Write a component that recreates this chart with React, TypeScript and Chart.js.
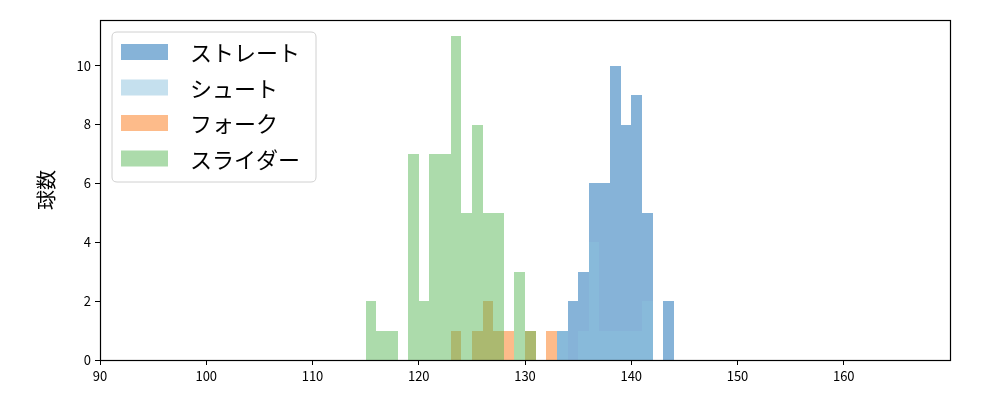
import React, { useEffect, useRef } from "react";
import { Chart, registerables } from "chart.js";

Chart.register(...registerables);

// Histogram bins (left edge, km/h) and counts per pitch type
const binWidth = 1;
const straightBins = [133, 134, 135, 136, 137, 138, 139, 140, 141, 142, 143];
const straightCounts = [1, 2, 3, 6, 6, 10, 8, 9, 5, 0, 2];
const shootBins = [133, 134, 135, 136, 137, 138, 139, 140, 141];
const shootCounts = [1, 0, 1, 4, 1, 1, 1, 1, 2];
const forkBins = [123, 124, 125, 126, 127, 128, 129, 130, 131, 132];
const forkCounts = [1, 0, 1, 2, 1, 1, 0, 1, 0, 1];
const sliderBins = [115, 116, 117, 118, 119, 120, 121, 122, 123, 124, 125, 126, 127, 128, 129, 130];
const sliderCounts = [2, 1, 1, 0, 7, 2, 7, 7, 11, 5, 8, 5, 5, 0, 3, 1];

const seriesNames = ["ストレート", "シュート", "フォーク", "スライダー"];
const seriesColors = [
  "rgba(13, 103, 177, 0.5)",
  "rgba(139, 193, 221, 0.5)",
  "rgba(251, 119, 21, 0.5)",
  "rgba(89, 183, 87, 0.5)",
];

const xTicks = [90, 100, 110, 120, 130, 140, 150, 160];
const yTicks = [0, 2, 4, 6, 8, 10];
const xMin = 90;
const xMax = 170;
const yMax = 11.55;
const yTitle = "球数";

const FONT = "'Noto Sans CJK JP', 'DejaVu Sans', sans-serif";

function toPoints(bins: number[], counts: number[]) {
  return bins.map((b, i) => ({ x: b + binWidth / 2, y: counts[i] }));
}

// Snap bar edges to whole pixels so adjacent translucent bars do not show seams
const snapPlugin = {
  id: "snapBars",
  afterDatasetsUpdate(chart: any) {
    chart.data.datasets.forEach((_: any, di: number) => {
      const meta = chart.getDatasetMeta(di);
      meta.data.forEach((el: any) => {
        const l = Math.round(el.x - el.width / 2);
        const r = Math.round(el.x + el.width / 2);
        el.x = (l + r) / 2;
        el.width = r - l;
        el.y = Math.round(el.y);
        el.base = Math.round(el.base);
      });
    });
  },
};

const framePlugin = {
  id: "frame",
  afterDatasetsDraw(chart: any) {
    const { ctx, chartArea } = chart;
    ctx.save();
    ctx.strokeStyle = "#000";
    ctx.lineWidth = 1.2;
    ctx.strokeRect(
      Math.round(chartArea.left) + 0.5,
      Math.round(chartArea.top) + 0.5,
      Math.round(chartArea.right - chartArea.left),
      Math.round(chartArea.bottom - chartArea.top)
    );
    ctx.restore();
  },
};

const legendPlugin = {
  id: "boxLegend",
  afterDraw(chart: any) {
    const { ctx } = chart;
    const x0 = 112;
    const y0 = 32;
    const w = 204;
    const h = 150;
    const r = 5;
    ctx.save();
    ctx.beginPath();
    ctx.moveTo(x0 + r, y0);
    ctx.lineTo(x0 + w - r, y0);
    ctx.quadraticCurveTo(x0 + w, y0, x0 + w, y0 + r);
    ctx.lineTo(x0 + w, y0 + h - r);
    ctx.quadraticCurveTo(x0 + w, y0 + h, x0 + w - r, y0 + h);
    ctx.lineTo(x0 + r, y0 + h);
    ctx.quadraticCurveTo(x0, y0 + h, x0, y0 + h - r);
    ctx.lineTo(x0, y0 + r);
    ctx.quadraticCurveTo(x0, y0, x0 + r, y0);
    ctx.closePath();
    ctx.fillStyle = "rgba(255,255,255,0.8)";
    ctx.fill();
    ctx.strokeStyle = "#d0d0d0";
    ctx.lineWidth = 1;
    ctx.stroke();

    ctx.font = `22px ${FONT}`;
    ctx.textBaseline = "middle";
    ctx.textAlign = "left";
    for (let i = 0; i < seriesNames.length; i++) {
      const cy = 52 + i * 35.5;
      ctx.fillStyle = seriesColors[i];
      ctx.fillRect(121, cy - 8, 47, 16);
      ctx.fillStyle = "#000";
      ctx.fillText(seriesNames[i], 190, cy + 1);
    }
    ctx.restore();
  },
};

export default function App() {
  const canvasRef = useRef<HTMLCanvasElement | null>(null);

  useEffect(() => {
    if (!canvasRef.current) return;
    Chart.defaults.font.family = FONT;
    Chart.defaults.color = "#000";
    const allData = [
      toPoints(straightBins, straightCounts),
      toPoints(shootBins, shootCounts),
      toPoints(forkBins, forkCounts),
      toPoints(sliderBins, sliderCounts),
    ];
    const chart = new Chart(canvasRef.current, {
      type: "bar",
      data: {
        datasets: allData.map((d, i) => ({
          label: seriesNames[i],
          data: d,
          backgroundColor: seriesColors[i],
          borderWidth: 0,
          inflateAmount: 0,
          barPercentage: 1,
          categoryPercentage: 1,
          grouped: false,
          order: seriesNames.length - i,
        })),
      },
      options: {
        animation: false,
        responsive: false,
        devicePixelRatio: 1,
        layout: { padding: { left: 0, right: 50, top: 20, bottom: 0 } },
        plugins: {
          legend: { display: false },
          tooltip: { enabled: false },
        },
        scales: {
          x: {
            type: "linear",
            min: xMin,
            max: xMax,
            offset: false,
            grid: {
              offset: false,
              drawOnChartArea: false,
              drawTicks: true,
              tickLength: 5,
              color: "#000",
            },
            border: { display: false },
            ticks: {
              font: { size: 13, family: FONT },
              color: "#000",
              padding: 3,
              maxRotation: 0,
            },
            afterBuildTicks: (scale: any) => {
              scale.ticks = xTicks.map((v) => ({ value: v }));
            },
            afterFit: (scale: any) => {
              scale.height = 40;
            },
          },
          y: {
            type: "linear",
            min: 0,
            max: yMax,
            grid: {
              drawOnChartArea: false,
              drawTicks: true,
              tickLength: 5,
              color: "#000",
            },
            border: { display: false },
            ticks: {
              font: { size: 13, family: FONT },
              color: "#000",
              padding: 4,
            },
            title: {
              display: true,
              text: yTitle,
              font: { size: 20, family: FONT },
              color: "#000",
              padding: { top: 34, bottom: 0 },
            },
            afterBuildTicks: (scale: any) => {
              scale.ticks = yTicks.map((v) => ({ value: v }));
            },
            afterFit: (scale: any) => {
              scale.width = 100;
            },
          },
        },
      },
      plugins: [snapPlugin, framePlugin, legendPlugin],
    } as any);
    return () => chart.destroy();
  }, []);

  return (
    <div style={{ position: "fixed", left: 0, top: 0, width: 1000, height: 400, background: "#fff" }}>
      <canvas ref={canvasRef} width={1000} height={400} />
    </div>
  );
}
